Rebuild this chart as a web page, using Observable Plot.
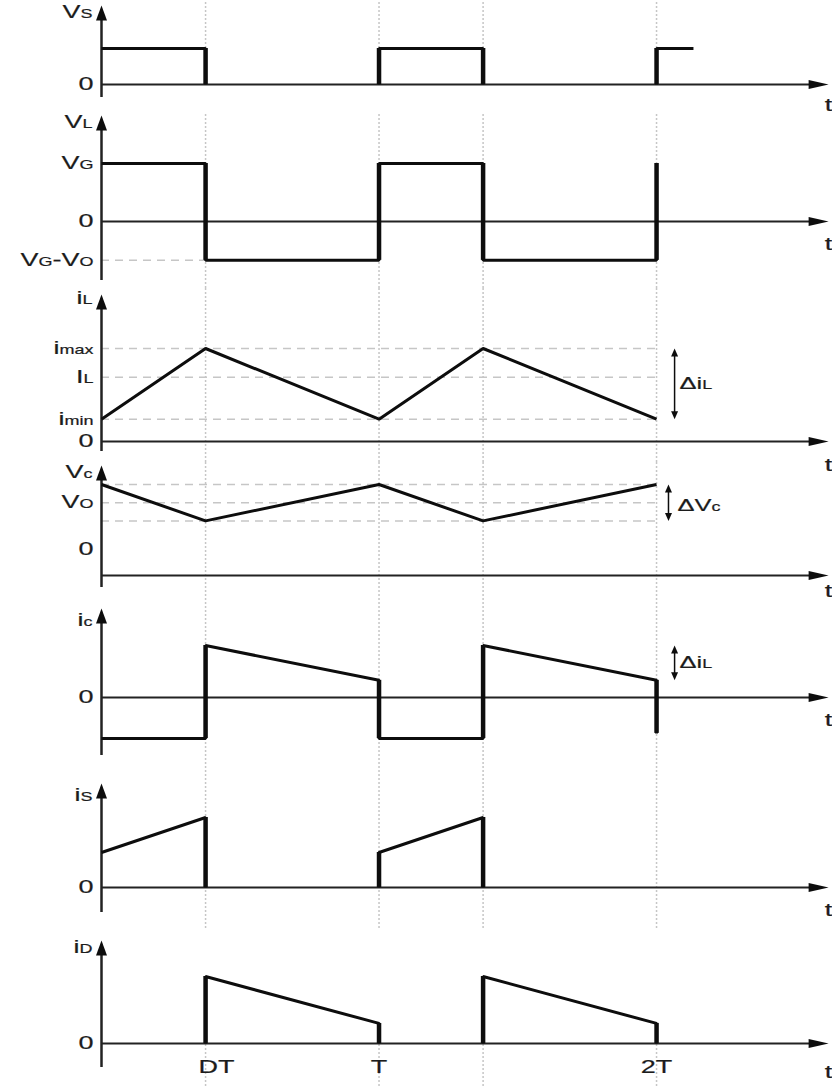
<!DOCTYPE html>
<html>
<head>
<meta charset="utf-8">
<script src="https://cdn.jsdelivr.net/npm/d3@7"></script>
<script src="https://cdn.jsdelivr.net/npm/@observablehq/plot@0.6"></script>
<style>
  html, body { margin: 0; padding: 0; background: #ffffff; }
  #chart { position: relative; width: 832px; height: 1086px; overflow: hidden; }
  #chart svg { position: absolute; left: 0; }
</style>
</head>
<body>
<div id="chart"></div>
<script>
// ---------- data (time in units of the period T, duty cycle D = 0.375) ----------
const tickTimes = [0.375, 1, 2];
const tickNames = ["DT", "T", "2T"];
const guideTimes = [0.375, 1, 1.375, 2];

const vsTime  = [0, 0.375, 0.375, 1, 1, 1.375, 1.375, 2, 2, 2.133];
const vsValue = [1, 1, 0, 0, 1, 1, 0, 0, 1, 1];

const vlTime  = [0, 0.375, 0.375, 1, 1, 1.375, 1.375, 2, 2];
const vlValue = [1, 1, -0.67, -0.67, 1, 1, -0.67, -0.67, 1];

const iLTime  = [0, 0.375, 1, 1.375, 2];
const iLValue = [0.24, 1, 0.24, 1, 0.24];

const vcTime  = [0, 0.375, 1, 1.375, 2];
const vcValue = [1, 0.6, 1, 0.6, 1];

const icTime  = [0, 0.375, 0.375, 1, 1, 1.375, 1.375, 2, 2];
const icValue = [-0.79, -0.79, 1, 0.33, -0.79, -0.79, 1, 0.33, -0.69];

const isTime  = [0, 0.375, 0.375, 1, 1, 1.375, 1.375];
const isValue = [0.5, 1, 0, 0, 0.5, 1, 0];

const iDTime  = [0.375, 0.375, 1, 1, 1.375, 1.375, 2, 2];
const iDValue = [0, 1, 0.3, 0, 0, 1, 0.3, 0];

// axis titles and level labels ("_{...}" marks a subscript)
const titles = ["V_{S}", "V_{L}", "i_{L}", "V_{c}", "i_{c}", "i_{S}", "i_{D}"];
const vsLevelNames = ["0"];                       const vsLevels = [0];
const vlLevelNames = ["V_{G}", "0", "V_{G}-V_{O}"]; const vlLevels = [1, 0, -0.67];
const iLLevelNames = ["i_{max}", "I_{L}", "i_{min}", "0"]; const iLLevels = [1, 0.69, 0.24, 0];
const vcLevelNames = ["V_{O}", "0"];              const vcLevels = [0.8, 0];
const icLevelNames = ["0"];                       const icLevels = [0];
const isLevelNames = ["0"];                       const isLevels = [0];
const iDLevelNames = ["0"];                       const iDLevels = [0];

const vlDashed = [-0.67];
const iLDashed = [1, 0.69, 0.24];
const vcDashed = [1, 0.8, 0.6];

const deltaNames = ["Δi_{L}", "ΔV_{c}", "Δi_{L}"];
const deltaILSpan = [0.24, 1];
const deltaVcSpan = [0.6, 1];
const deltaIcSpan = [0.33, 1];

// ---------- styling ----------
const FONT = "'Liberation Sans', Arial, Helvetica, sans-serif";
const INK = "#0d0d0d";
const AXIS = "#222222";
const TEXT = "#1c1c1c";
const GUIDE = "#c6c6c6";
const STRETCH = 1.5;
const SUB = 12;
const X_END = 2.634;   // right edge of the x scale
const X_TIP = 2.62;    // tip of the time axis arrow

const head = (pts) => ({draw(c) { c.moveTo(pts[0][0], pts[0][1]); for (const p of pts.slice(1)) c.lineTo(p[0], p[1]); c.closePath(); }});
const headUp = head([[0, 0], [-5.5, 15], [5.5, 15]]);
const headRight = head([[0, 0], [-20, -4.5], [-20, 4.5]]);
const smallUp = head([[0, 0], [-3.5, 8], [3.5, 8]]);
const smallDown = head([[0, 0], [-3.5, -8], [3.5, -8]]);

// ---------- panel layout (page pixels) ----------
const panels = [
  {top: 0,   bottom: 112,  zero: 84,   unit: 36, axisTop: 5,   axisBottom: 97,   titleAt: 12,  tDy: 21,
   time: vsTime, value: vsValue, names: vsLevelNames, levels: vsLevels, dashed: [], guide: "below"},
  {top: 112, bottom: 288,  zero: 221,  unit: 58, axisTop: 115, axisBottom: 280,  titleAt: 122, tDy: 23,
   time: vlTime, value: vlValue, names: vlLevelNames, levels: vlLevels, dashed: vlDashed, dashTo: 0.375},
  {top: 288, bottom: 462,  zero: 441,  unit: 93, axisTop: 294, axisBottom: 451,  titleAt: 298, tDy: 24,
   time: iLTime, value: iLValue, names: iLLevelNames, levels: iLLevels, dashed: iLDashed, dashTo: 2,
   delta: {t: 2.065, span: deltaILSpan, name: deltaNames[0], at: 0.62, dx: 5}},
  {top: 462, bottom: 600,  zero: 575,  unit: 91, axisTop: 465, axisBottom: 587,  titleAt: 472, tDy: 16, zeroShift: -26,
   time: vcTime, value: vcValue, names: vcLevelNames, levels: vcLevels, dashed: vcDashed, dashTo: 2,
   delta: {t: 2.043, span: deltaVcSpan, name: deltaNames[1], at: 0.77, dx: 9}},
  {top: 600, bottom: 772,  zero: 697,  unit: 52, axisTop: 608, axisBottom: 755,  titleAt: 620, tDy: 23,
   time: icTime, value: icValue, names: icLevelNames, levels: icLevels, dashed: [],
   delta: {t: 2.065, span: deltaIcSpan, name: deltaNames[2], at: 0.67, dx: 5}},
  {top: 772, bottom: 928,  zero: 887,  unit: 70, axisTop: 783, axisBottom: 912,  titleAt: 795, tDy: 23,
   time: isTime, value: isValue, names: isLevelNames, levels: isLevels, dashed: []},
  {top: 928, bottom: 1086, zero: 1043, unit: 67, axisTop: 940, axisBottom: 1067, titleAt: 947, tDy: 29,
   time: iDTime, value: iDValue, names: iDLevelNames, levels: iDLevels, dashed: [], guide: "above", ticks: true}
];

const textStyle = {fontFamily: FONT, fontSize: 18, fill: TEXT, stroke: TEXT, strokeWidth: 0.2};

function makePanel(p, k) {
  const H = p.bottom - p.top;
  const val = (row) => (p.zero - row) / p.unit;
  const lo = val(p.bottom), hi = val(p.top);
  const pts = p.time.map((t, i) => ({t, v: p.value[i]}));
  // the waveform is not redrawn where it rests on the time axis (v = 0 to v = 0)
  const wave = [];
  pts.forEach((d, i) => {
    if (i > 0 && d.v === 0 && pts[i - 1].v === 0 && d.t !== pts[i - 1].t) wave.push({t: d.t, v: NaN});
    wave.push(d);
  });
  const jumps = [];
  for (let i = 1; i < pts.length; i++) if (pts[i].t === pts[i - 1].t) jumps.push({t: pts[i].t, a: pts[i - 1].v, b: pts[i].v});

  const marks = [
    Plot.ruleX(guideTimes, {
      y1: p.guide === "below" ? 0 : lo, y2: p.guide === "above" ? 0 : hi,
      stroke: GUIDE, strokeWidth: 1.5, strokeDasharray: "2,2"
    }),
    Plot.ruleY(p.dashed, {x1: 0, x2: p.dashTo ?? 2, stroke: GUIDE, strokeWidth: 1.5, strokeDasharray: "8,6"}),
    Plot.ruleY([0], {x1: 0, x2: X_TIP - 0.04, stroke: AXIS, strokeWidth: 2}),
    Plot.ruleX([0], {y1: val(p.axisBottom), y2: val(p.axisTop + 12), stroke: AXIS, strokeWidth: 2.5}),
    Plot.dot([{t: 0, v: val(p.axisTop)}], {x: "t", y: "v", symbol: headUp, r: 5, fill: INK, stroke: "none"}),
    Plot.dot([{t: X_TIP, v: 0}], {x: "t", y: "v", symbol: headRight, r: 5, fill: INK, stroke: "none"}),
    Plot.line(wave, {x: "t", y: "v", stroke: INK, strokeWidth: 3, strokeLinejoin: "miter", strokeLinecap: "butt"}),
    Plot.ruleX(jumps, {x: "t", y1: "a", y2: "b", stroke: INK, strokeWidth: 4.5}),
    Plot.text([titles[k]], {x: 0, y: val(p.titleAt), text: (d) => d, textAnchor: "end", dx: -9, ...textStyle}),
    Plot.text(p.levels, {
      x: 0, y: (d, i) => d + (p.names[i] === "0" && p.zeroShift ? -p.zeroShift / p.unit : 0),
      text: (d, i) => p.names[i], textAnchor: "end", dx: -8, ...textStyle
    }),
    Plot.text(["t"], {x: X_TIP, y: 0, dy: p.tDy, text: (d) => d, textAnchor: "middle", ...textStyle})
  ];
  if (p.delta) {
    const [a, b] = p.delta.span;
    marks.push(
      Plot.ruleX([p.delta.t], {y1: a + 6 / p.unit, y2: b - 6 / p.unit, stroke: INK, strokeWidth: 1.5}),
      Plot.dot([{t: p.delta.t, v: b}], {x: "t", y: "v", symbol: smallUp, r: 3, fill: INK, stroke: "none"}),
      Plot.dot([{t: p.delta.t, v: a}], {x: "t", y: "v", symbol: smallDown, r: 3, fill: INK, stroke: "none"}),
      Plot.text([p.delta.name], {x: p.delta.t, y: p.delta.at, text: (d) => d, textAnchor: "start", dx: p.delta.dx, ...textStyle, fontSize: 17})
    );
  }
  if (p.ticks) {
    marks.push(
      Plot.text(tickTimes, {x: (d) => d, y: 0, dy: 24, text: (d, i) => tickNames[i], filter: (d, i) => i === 0, dx: 11, textAnchor: "middle", ...textStyle}),
      Plot.text(tickTimes, {x: (d) => d, y: 0, dy: 24, text: (d, i) => tickNames[i], filter: (d, i) => i > 0, textAnchor: "middle", ...textStyle})
    );
  }
  const svg = Plot.plot({
    width: 832, height: H,
    marginLeft: 101, marginRight: 0, marginTop: 0, marginBottom: 0,
    x: {domain: [0, X_END], axis: null},
    y: {domain: [lo, hi], axis: null},
    style: {background: "transparent", overflow: "visible", fontFamily: FONT},
    marks
  });
  svg.style.top = p.top + "px";
  stylize(svg);
  return svg;
}

// subscripts as tspans, plus the horizontal stretch of the lettering
function stylize(svg) {
  d3.select(svg).selectAll("text").each(function () {
    const el = this;
    const s = el.textContent;
    if (s.includes("_{")) {
      el.textContent = "";
      const sel = d3.select(el);
      const re = /_\{([^}]*)\}/g;
      let last = 0, m;
      while ((m = re.exec(s))) {
        if (m.index > last) sel.append("tspan").text(s.slice(last, m.index));
        sel.append("tspan").attr("font-size", SUB).text(m[1]);
        last = re.lastIndex;
      }
      if (last < s.length) sel.append("tspan").text(s.slice(last));
    }
    const tr = el.getAttribute("transform");
    if (tr) {
      el.setAttribute("transform", tr + ` scale(${STRETCH},1)`);
    } else {
      const x = +el.getAttribute("x") || 0, y = +el.getAttribute("y") || 0;
      el.setAttribute("transform", `translate(${x},${y}) scale(${STRETCH},1) translate(${-x},${-y})`);
    }
  });
}

const chart = document.getElementById("chart");
panels.forEach((p, k) => chart.appendChild(makePanel(p, k)));
</script>
</body>
</html>
